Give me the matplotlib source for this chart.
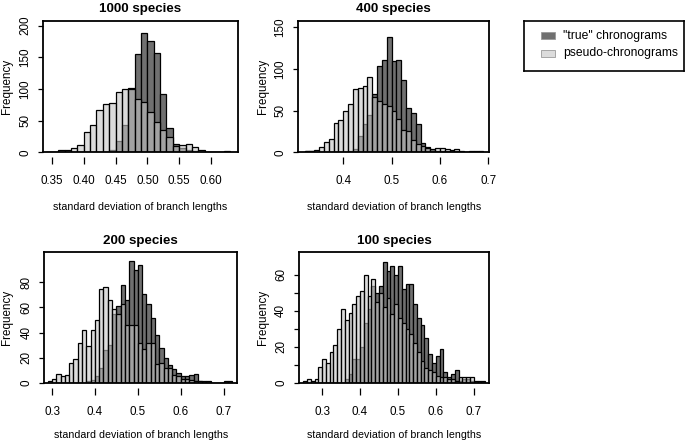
import numpy as np
import matplotlib
matplotlib.use('Agg')
import matplotlib.pyplot as plt
from matplotlib.patches import Rectangle

plt.rcParams['font.family'] = ['Liberation Sans', 'DejaVu Sans']

# histogram counts, bins are 0.01 wide
bin_width = 0.01

# 1000 species
first_bin_1000 = 0.34
true_1000 = [0, 0, 0, 0, 0, 0, 0, 0, 0, 0, 3, 18, 43, 101, 155, 188, 175, 156, 92, 38,
             13, 7, 4, 2, 1, 1, 1, 1, 2]
pseudo_1000 = [1, 0, 4, 3, 7, 11, 32, 43, 66, 77, 78, 95, 100, 100, 84, 79, 64, 48, 35, 24,
               10, 11, 13, 8, 3, 1, 1, 0, 0]

# 400 species
first_bin_400 = 0.32
true_400 = [1, 1, 0, 0, 0, 0, 0, 0, 0, 1, 4, 20, 34, 45, 70, 104, 111, 138, 110, 111,
            87, 53, 47, 34, 11, 6, 3, 2, 2, 2, 2, 1, 0, 0, 1, 1, 1]
pseudo_400 = [2, 1, 3, 6, 12, 16, 35, 39, 49, 58, 76, 77, 79, 90, 66, 62, 58, 55, 50, 40,
              27, 25, 15, 10, 8, 5, 4, 5, 5, 4, 3, 4, 1, 0, 0, 0, 0]

# 200 species
first_bin_200 = 0.29
true_200 = [0, 0, 0, 0, 0, 0, 0, 0, 0, 1, 2, 5, 12, 26, 30, 55, 61, 78, 66, 97,
            90, 94, 71, 63, 52, 38, 28, 20, 14, 11, 8, 5, 5, 6, 7, 1, 1, 1, 0, 0,
            0, 1, 1]
pseudo_200 = [1, 3, 7, 5, 6, 16, 19, 32, 42, 29, 42, 50, 75, 76, 66, 59, 55, 63, 46, 46,
              46, 32, 27, 32, 32, 15, 16, 12, 12, 6, 5, 3, 3, 2, 1, 1, 0, 0, 0, 0,
              0, 0, 0]

# 100 species
first_bin_100 = 0.25
true_100 = [0, 0, 0, 0, 0, 0, 0, 0, 0, 0, 0, 2, 5, 13, 13, 20, 33, 41, 54, 50,
            54, 67, 62, 65, 60, 65, 52, 55, 55, 44, 36, 32, 25, 16, 11, 15, 19, 6, 3, 5,
            7, 1, 2, 2, 1, 1, 1, 1]
pseudo_100 = [1, 2, 1, 2, 9, 13, 11, 17, 21, 30, 41, 35, 39, 44, 48, 51, 60, 48, 58, 45,
              50, 42, 47, 38, 44, 36, 33, 30, 27, 22, 17, 12, 8, 7, 6, 4, 3, 3, 2, 2,
              1, 3, 3, 3, 3, 0, 0, 0]

titles = ['1000 species', '400 species', '200 species', '100 species']
legend_labels = ['"true" chronograms', 'pseudo-chronograms']

xticks_1000 = [0.35, 0.40, 0.45, 0.50, 0.55, 0.60]
xlabels_1000 = ['0.35', '0.40', '0.45', '0.50', '0.55', '0.60']
xticks_400 = [0.4, 0.5, 0.6, 0.7]
xlabels_400 = ['0.4', '0.5', '0.6', '0.7']
xticks_small = [0.3, 0.4, 0.5, 0.6, 0.7]
xlabels_small = ['0.3', '0.4', '0.5', '0.6', '0.7']

dark = '#707070'
light_rgba = (197 / 255, 197 / 255, 197 / 255, 0.6)
light_solid = '#dcdcdc'

W, H = 685, 443
fig = plt.figure(figsize=(W / 100, H / 100), dpi=100)


def px_axes(left, right, top, bottom):
    return fig.add_axes([left / W, 1 - bottom / H, (right - left) / W, (bottom - top) / H])


def panel(ax, first_bin, true, pseudo, title, xlim, ylim, xticks, xlabels, yticks, ylabels,
          xlab_off, ylab_off):
    n = len(true)
    edges = first_bin + bin_width * np.arange(n)
    ax.bar(edges, true, width=bin_width, align='edge', color=dark,
           edgecolor='black', linewidth=0.9)
    ax.bar(edges, pseudo, width=bin_width, align='edge', color=light_rgba,
           edgecolor='black', linewidth=0.9)
    ax.set_xlim(*xlim)
    ax.set_ylim(0, ylim)
    ax.set_xticks(xticks)
    ax.set_xticklabels(xlabels)
    ax.set_yticks(yticks)
    ax.set_yticklabels(ylabels)
    for s in ax.spines.values():
        s.set_linewidth(1.3)
    # x axis sits a little below the box, as in base R
    ax.spines['bottom'].set_position(('outward', 3.6))
    ax.spines['bottom'].set_visible(False)
    ax.axhline(0, color='black', lw=1.3, zorder=5, clip_on=False)
    ax.tick_params(axis='x', direction='out', length=5, width=0.9, pad=8, labelsize=8.4)
    ax.tick_params(axis='y', direction='out', length=3.6, width=0.9, pad=5,
                   labelsize=8.4, labelrotation=90)
    for lbl in ax.get_yticklabels():
        lbl.set_va('center')
    ax.set_title(title, fontsize=9.6, fontweight='bold', pad=6)
    ax.set_xlabel('standard deviation of branch lengths', fontsize=7.7, va='center')
    ax.xaxis.set_label_coords(0.5, xlab_off)
    ax.set_ylabel('Frequency', fontsize=8.4, va='center')
    ax.yaxis.set_label_coords(ylab_off, 0.5)


ax1 = px_axes(43, 238, 20.5, 152.3)
panel(ax1, first_bin_1000, true_1000, pseudo_1000, titles[0], (0.336, 0.6425), 208,
      xticks_1000, xlabels_1000, [0, 50, 100, 150, 200],
      ['0', '50', '100', '150', '200'], -(207.5 - 152.3) / 131.8, -(43 - 7.5) / 195)

ax2 = px_axes(298.3, 489.3, 20.5, 152.3)
panel(ax2, first_bin_400, true_400, pseudo_400, titles[1], (0.307, 0.702), 158,
      xticks_400, xlabels_400, [0, 50, 100, 150], ['0', '50', '100', '150'],
      -(207.5 - 152.3) / 131.8, -(298.3 - 262.5) / 191)

ax3 = px_axes(44.3, 237.3, 252.3, 382.7)
panel(ax3, first_bin_200, true_200, pseudo_200, titles[2], (0.282, 0.732), 104,
      xticks_small, xlabels_small, [0, 20, 40, 60, 80], ['0', '20', '40', '60', '80'],
      -(435 - 382.7) / 130.4, -(44.3 - 7.5) / 193)

ax4 = px_axes(299, 489.3, 252.3, 382.7)
panel(ax4, first_bin_100, true_100, pseudo_100, titles[3], (0.239, 0.741), 72.6,
      xticks_small, xlabels_small, [0, 10, 20, 30, 40, 50, 60],
      ['0', '', '20', '', '40', '', '60'],
      -(435 - 382.7) / 130.4, -(299 - 263) / 190.3)

# legend box
lax = px_axes(524.3, 684, 20.5, 70.7)
lax.set_xlim(0, 1)
lax.set_ylim(0, 1)
lax.set_xticks([])
lax.set_yticks([])
for s in lax.spines.values():
    s.set_linewidth(1.2)
for yc, col, lab in [(0.697, dark, legend_labels[0]), (0.347, light_solid, legend_labels[1])]:
    lax.add_patch(Rectangle((0.103, yc - 0.065), 0.089, 0.13, facecolor=col,
                            edgecolor='#9a9a9a', linewidth=0.6))
    lax.text(0.244, yc, lab, fontsize=8.7, va='center', ha='left')

fig.savefig('out.png', dpi=100)
